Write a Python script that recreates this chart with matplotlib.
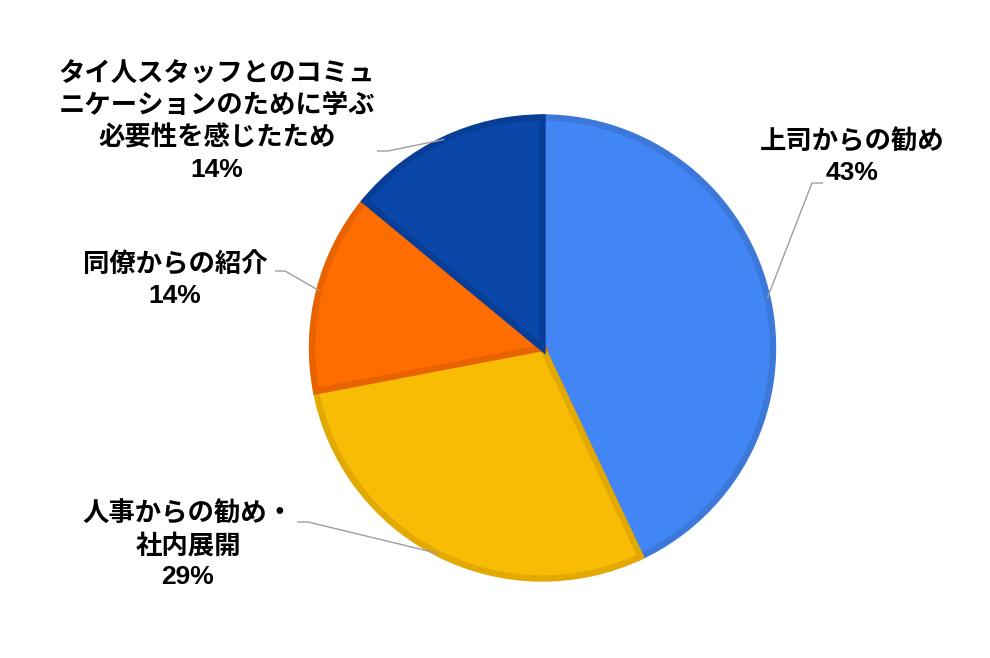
import matplotlib
matplotlib.use("Agg")
import matplotlib.pyplot as plt
import numpy as np

categories = ["上司からの勧め", "人事からの勧め・\n社内展開", "同僚からの紹介",
              "タイ人スタッフとのコミュ\nニケーションのために学ぶ\n必要性を感じたため"]
values = [43, 29, 14, 14]
fill_colors = ["#4285F4", "#F8BC04", "#FF6D00", "#0B47A8"]
edge_colors = ["#3C78DA", "#E2A902", "#E86300", "#083E98"]

W, H = 990, 658
fig = plt.figure(figsize=(W / 100, H / 100), dpi=100)
ax = fig.add_axes([0, 0, 1, 1])

cx, cy, R = 542.5, H - 348, 230.5
wedges, _ = ax.pie(values, startangle=90, counterclock=False, center=(cx, cy),
                   radius=R, colors=fill_colors, frame=True,
                   wedgeprops=dict(linewidth=4.6))
for w, ec in zip(wedges, edge_colors):
    w.set_edgecolor(ec)
    w.set_clip_path(w)
ax.set_xlim(0, W)
ax.set_ylim(0, H)
ax.set_aspect("equal")
ax.axis("off")

# label layout (image pixel coords: text centre, elbow point, line end)
layout = [
    dict(text=(852, 157), elbow=(812, 183), tail=(823, 183)),
    dict(text=(188, 545), elbow=(308, 522), tail=(297, 522)),
    dict(text=(175, 280), elbow=(285, 271), tail=(275, 271)),
    dict(text=(217, 122), elbow=(388, 151), tail=(377, 151)),
]

total = sum(values)
fam = ["Liberation Sans", "Noto Sans CJK JP"]
for w, cat, v, lay in zip(wedges, categories, values, layout):
    mid = np.deg2rad((w.theta1 + w.theta2) / 2)
    px, py = cx + R * np.cos(mid), cy + R * np.sin(mid)
    ex, ey = lay["elbow"][0], H - lay["elbow"][1]
    tx, ty = lay["tail"][0], H - lay["tail"][1]
    ax.plot([px, ex, tx], [py, ey, ty], color="#9E9E9E", lw=1.0,
            solid_capstyle="butt", zorder=1)
    pct = round(100 * v / total)
    ax.text(lay["text"][0], H - lay["text"][1], f"{cat}\n{pct}%",
            ha="center", va="center", multialignment="center",
            fontsize=19, fontweight="bold", family=fam, color="#000000",
            linespacing=1.36)

fig.savefig("out.png", dpi=100)
